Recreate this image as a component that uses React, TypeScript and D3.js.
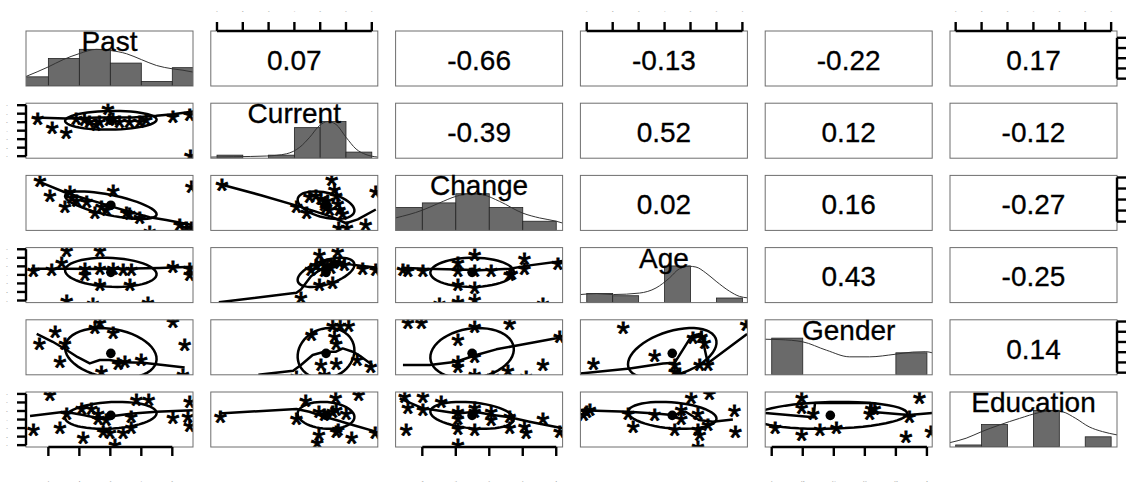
import React from "react";
import * as d3 from "d3";

const W = 1143;
const H = 482;
const PANEL_W = 167;
const PANEL_H = 55;
const COL0 = 26;
const COL_STEP = 184.8;
const ROW0 = 31;
const ROW_STEP = 72.2;
const FONT = "'Liberation Sans', Arial, Helvetica, sans-serif";

// ---- variables ----
const varNames = ["Past", "Current", "Change", "Age", "Gender", "Education"];
// axis range of each variable (value at left/bottom edge, value at right/top edge)
const domPast = [0.278, 5.668];
const domCurrent = [0.76, 7.233];
const domChange = [-2.798, 2.19];
const domAge = [0.755, 7.193];
const domGender = [0.958, 2.034];
const domEducation = [0.781, 7.226];
const varDomains = [domPast, domCurrent, domChange, domAge, domGender, domEducation];

// tick values and (illegibly small) tick labels
const ticksPast = [1, 2, 3, 4, 5];
const ticksCurrent = [1, 2, 3, 4, 5, 6, 7];
const ticksChange = [-2, -1, 0, 1, 2];
const ticksAge = [1, 2, 3, 4, 5, 6, 7];
const ticksGender = [1, 1.2, 1.4, 1.6, 1.8, 2];
const ticksEducation = [1, 2, 3, 4, 5, 6, 7];
const varTicks = [ticksPast, ticksCurrent, ticksChange, ticksAge, ticksGender, ticksEducation];

// histograms (bin edges in data units, counts)
const edgesPast = [0, 1, 2, 3, 4, 5, 6];
const countsPast = [2, 6, 8, 5, 1, 4];
const edgesCurrent = [1, 2, 3, 4, 5, 6, 7];
const countsCurrent = [1, 0, 1, 10, 12, 2];
const edgesChange = [-3, -2, -1, 0, 1, 2];
const countsChange = [5, 6, 8, 5, 2];
const edgesAge = [1, 2, 3, 4, 5, 6, 7];
const countsAge = [4, 3, 0, 16, 0, 2];
const edgesGender = [1, 1.2, 1.4, 1.6, 1.8, 2];
const countsGender = [15, 0, 0, 0, 9];
const edgesEducation = [1, 2, 3, 4, 5, 6, 7];
const countsEducation = [1, 11, 0, 18, 0, 5];
const histEdges = [edgesPast, edgesCurrent, edgesChange, edgesAge, edgesGender, edgesEducation];
const histCounts = [countsPast, countsCurrent, countsChange, countsAge, countsGender, countsEducation];

// density curves: [position in axis range (%), density relative to max]
const densPast = [[0, 0.26], [13.3, 0.52], [22.3, 0.72], [31.7, 0.88], [42.2, 1], [50.2, 0.97], [60.2, 0.88], [69.1, 0.72], [78.1, 0.56], [87.5, 0.47], [94, 0.43], [100, 0.38]];
const densCurrent = [[0, 0.03], [13.7, 0.04], [33.5, 0.06], [45.3, 0.12], [53.3, 0.3], [59.2, 0.57], [65.1, 0.89], [70.1, 1], [75, 0.92], [81, 0.57], [87, 0.25], [92.9, 0.1], [100, 0.03]];
const densChange = [[0, 0.34], [16, 0.55], [26.3, 0.75], [36.3, 0.93], [44.3, 1], [52.3, 0.97], [62.3, 0.79], [76.2, 0.47], [86.2, 0.34], [96.2, 0.25], [100, 0.2]];
const densAge = [[0, 0.22], [9.7, 0.245], [19.7, 0.22], [35.4, 0.26], [45.3, 0.4], [53.3, 0.67], [59.2, 0.92], [65.2, 0.99], [69.2, 0.97], [75.1, 0.81], [81.3, 0.58], [89.3, 0.31], [95.2, 0.17], [100, 0.13]];
const densGender = [[0, 0.97], [8.9, 0.96], [22.4, 0.9], [36.7, 0.67], [50.6, 0.49], [62.5, 0.49], [77.8, 0.56], [88.3, 0.62], [96.2, 0.63], [100, 0.6]];
const densEducation = [[0, 0.12], [9.7, 0.24], [19, 0.42], [29.6, 0.6], [41.6, 0.78], [53.5, 0.94], [61.4, 0.99], [67.4, 0.96], [75.3, 0.78], [83.3, 0.55], [91.3, 0.42], [100, 0.33]];
const densities = [densPast, densCurrent, densChange, densAge, densGender, densEducation];

// means and standard deviations (position in axis range, %)
const varMeans = [50.8, 69, 45.8, 55, 39, 57.5];
const varSds = [27.4, 17, 25, 26.5, 46, 24.5];

// correlations (upper triangle, by row)
const corPast = [0.07, -0.66, -0.13, -0.22, 0.17];
const corCurrent = [-0.39, 0.52, 0.12, -0.12];
const corChange = [0.02, 0.16, -0.27];
const corAge = [0.43, -0.25];
const corGender = [0.14];
const corRows = [corPast, corCurrent, corChange, corAge, corGender];

// scatter points [x %, y %] and loess smooth for each lower panel (x var, y var)
const starsPastCurrent = [[7, 75], [15.7, 58], [24, 49], [30, 74], [35, 72], [38, 69], [42, 64], [44, 70], [49, 93], [50, 72], [52, 74], [56, 70], [62, 69], [68, 70], [72, 72], [88, 78], [98, 82], [98.4, 7]];
const loessPastCurrent = [[4.4, 74], [24, 72], [44, 74], [64, 74], [78, 77], [88, 80], [100, 85]];

const starsPastChange = [[8.4, 94], [14.3, 65], [26.3, 74], [52.2, 75], [23.3, 45], [27.3, 62], [30.3, 56], [36.3, 55], [41.2, 34.5], [45.2, 46.7], [48.2, 40.6], [60.2, 34.5], [62, 33], [68, 25.5], [74, 1.2], [92, 13.3], [96, 7.3], [99, 7.3], [99, 83]];
const loessPastChange = [[7.4, 89], [24.3, 68], [35, 58], [44.2, 50], [54, 41], [64, 32], [74, 24], [84, 19], [99.6, 10]];

const starsCurrentChange = [[6.7, 85], [51.3, 45], [57.4, 35], [59, 64], [63, 66], [66, 60], [68, 50], [69, 44], [70, 56], [71, 40], [72.4, 95], [74, 77], [75, 66], [76, 52], [77, 40], [79, 33], [76.5, 7], [81.5, 7], [92.8, 13.3], [98.8, 74]];
const loessCurrentChange = [[6.7, 83], [30, 64], [51.3, 45], [62, 35], [72, 25], [81, 13], [88, 20], [98.8, 38]];

const starsPastAge = [[4.4, 60], [15.3, 63], [21.3, 75.6], [24.3, 97], [44.2, 97], [35.3, 65], [35.3, 54], [44.2, 65], [52.2, 65], [58.2, 63], [63.2, 63], [44.2, 35], [62.2, 35], [88, 67.7], [98, 65], [98, 54], [24.3, 5.5], [40, 0], [73, 2.4]];
const loessPastAge = [[3, 61.6], [24, 61.6], [44, 61], [64, 62], [80, 63], [100, 65]];

const starsCurrentAge = [[65, 90], [76, 95.7], [60, 62], [63, 70], [66, 75], [70, 72], [72, 66], [74, 78], [77, 75], [80, 72], [68, 60], [65, 36], [73, 39], [54, 11.6], [91, 65], [98.8, 63]];
const loessCurrentAge = [[4.8, 0.6], [51.3, 17.7], [54, 24], [60, 48], [68, 65], [76, 70], [83, 69.5], [91, 66.5], [99.8, 63.4]];

const starsChangeAge = [[4.4, 63.4], [7.4, 61.6], [16.4, 60.4], [37.3, 75.6], [37.3, 60.4], [47.3, 89.6], [47.3, 60.4], [57.3, 60.4], [77.2, 81.7], [77.2, 65], [97.2, 72.6], [37.3, 36], [47.3, 30], [47.3, 8.5], [37.3, 4.3], [26.3, 0], [88.2, 0.6], [68.3, 53], [69.5, 55]];
const loessChangeAge = [[3.4, 63.4], [17.4, 61.6], [37.3, 60.4], [50.3, 59], [68.3, 61.6], [80.2, 67.7], [100, 75.6]];

const starsPastGender = [[8, 60], [17.4, 81.7], [23.3, 59], [20.3, 26.8], [41.2, 87.8], [44.2, 97], [52.2, 78.7], [55.2, 23.8], [59.2, 26.8], [69, 31], [45.2, 8.5], [88, 100], [95, 57], [94, 2.4]];
const loessPastGender = [[6.4, 74.4], [16, 60], [24.3, 45], [31, 32], [38.2, 20.7], [44.2, 26.8], [50, 27], [58, 23], [70, 22], [82, 18], [95, 13.4]];

const starsCurrentGender = [[60.2, 75.6], [73, 92.7], [77.4, 92.7], [82.6, 92.7], [74, 72.6], [75, 58.5], [66, 20.7], [75, 23.8], [68, 2.4], [51.3, 0], [87.7, 30], [95.8, 17.7]];
const loessCurrentGender = [[28.5, 0], [49.3, 7.3], [54, 17.7], [61, 36], [68, 42], [75, 42], [79, 48], [85, 42], [90, 33], [96.8, 17.7]];

const starsChangeGender = [[7.4, 97], [15.4, 97], [47.3, 90.9], [68.3, 95], [37.3, 66.5], [37.3, 26.8], [37.3, 17.7], [47.3, 36], [47.3, 2.4], [58.3, 0], [67.3, 9.8], [78.2, 0], [88.2, 22], [98.2, 72.6]];
const loessChangeGender = [[4.4, 17.7], [20.4, 17.7], [36.3, 23.8], [48.3, 36], [60.3, 46.3], [74.3, 54.3], [96.2, 66.5], [99.2, 72.6]];

const starsAgeGender = [[25.6, 87.8], [7.8, 23.8], [44.5, 37.8], [67.4, 69.5], [72.4, 72.6], [74.4, 60.4], [56.5, 20.7], [56.5, 8.5], [59.4, 5.5], [71.4, 20.7], [76.3, 22], [99.2, 94]];
const loessAgeGender = [[0, 2.4], [29.6, 11.6], [49.5, 20.7], [56.5, 22], [66.4, 70], [72.4, 75], [76.3, 21], [99.8, 74]];

const starsPastEducation = [[4.4, 35], [14.3, 97.6], [24.3, 64], [20.3, 37], [33.3, 73], [39.2, 73], [43.2, 62.4], [43.2, 54], [46.2, 31], [50.2, 29], [58.2, 29], [53.2, 6.7], [34.3, 20], [63, 58], [63, 37], [66.1, 88.5], [73.5, 88.5], [88, 56.4], [97, 58], [98, 85.5], [98, 41.8], [48, 52]];
const loessPastEducation = [[2.4, 56.4], [23.3, 64], [34.3, 58], [44.2, 52], [52.2, 56.4], [64, 61], [78, 64], [100, 67]];

const starsCurrentEducation = [[5.7, 58], [51.3, 54], [56.8, 87.3], [74.7, 91.5], [88.5, 97.6], [64.8, 67], [68, 61], [73, 67], [75, 70], [81, 64], [76.2, 34], [75, 31], [64.8, 24.8], [63.7, 9.7], [84.4, 20], [98.4, 27.9]];
const loessCurrentEducation = [[4.8, 61], [51.3, 69], [59, 64], [68, 55], [75, 49], [85, 40], [98.8, 28]];

const starsChangeEducation = [[5.4, 93.3], [16.4, 93.3], [27.3, 85.5], [7.4, 74.5], [16.4, 70.3], [37.3, 67.3], [37.3, 55], [47.3, 74.5], [47.3, 67.3], [57.3, 67.3], [57.3, 52], [68.3, 58], [68.3, 37], [37.3, 35.8], [47.3, 34], [37.3, 6.7], [6.4, 34], [77.2, 40], [78.2, 28], [88.2, 55], [98.2, 31]];
const loessChangeEducation = [[2.4, 88.5], [16.4, 70.3], [37.3, 61], [47.3, 64], [58.3, 58], [68.3, 54], [80.2, 46], [100, 34]];

const starsAgeEducation = [[1.8, 61], [3.8, 67.3], [5.7, 70.3], [28.6, 64], [31.6, 40], [44.5, 61], [56.5, 34], [60.4, 70.3], [66.4, 91.5], [77.3, 100], [70.4, 64], [60.4, 55], [70.4, 34], [71.4, 24.8], [76.3, 43], [70.4, 3.6], [92.2, 68.5], [92.8, 31]];
const loessAgeEducation = [[0, 67], [28.6, 64], [45, 61], [55, 58], [63, 64], [71, 49], [79.3, 46], [91.3, 50]];

const starsGenderEducation = [[21.8, 91.5], [21.8, 74.5], [28.8, 64], [63.5, 72], [65.5, 72], [62.5, 64], [92.3, 91.5], [86.3, 58], [6, 37], [21.8, 24.8], [32.7, 34], [42.7, 38], [84.3, 21.8], [99.2, 31]];
const loessGenderEducation = [[0, 62], [29, 54], [29.8, 80], [63, 80], [63, 64], [86, 58], [100, 62]];

const lowerPanels = [
  { row: 1, col: 0, stars: starsPastCurrent, loess: loessPastCurrent },
  { row: 2, col: 0, stars: starsPastChange, loess: loessPastChange },
  { row: 2, col: 1, stars: starsCurrentChange, loess: loessCurrentChange },
  { row: 3, col: 0, stars: starsPastAge, loess: loessPastAge },
  { row: 3, col: 1, stars: starsCurrentAge, loess: loessCurrentAge },
  { row: 3, col: 2, stars: starsChangeAge, loess: loessChangeAge },
  { row: 4, col: 0, stars: starsPastGender, loess: loessPastGender },
  { row: 4, col: 1, stars: starsCurrentGender, loess: loessCurrentGender },
  { row: 4, col: 2, stars: starsChangeGender, loess: loessChangeGender },
  { row: 4, col: 3, stars: starsAgeGender, loess: loessAgeGender },
  { row: 5, col: 0, stars: starsPastEducation, loess: loessPastEducation },
  { row: 5, col: 1, stars: starsCurrentEducation, loess: loessCurrentEducation },
  { row: 5, col: 2, stars: starsChangeEducation, loess: loessChangeEducation },
  { row: 5, col: 3, stars: starsAgeEducation, loess: loessAgeEducation },
  { row: 5, col: 4, stars: starsGenderEducation, loess: loessGenderEducation },
];

const colLeft = (c: number) => COL0 + COL_STEP * c;
const rowTop = (r: number) => ROW0 + ROW_STEP * r;
const xPct = (c: number) => d3.scaleLinear().domain([0, 100]).range([colLeft(c), colLeft(c) + PANEL_W]);
const yPct = (r: number) => d3.scaleLinear().domain([0, 100]).range([rowTop(r) + PANEL_H, rowTop(r)]);
const xVal = (c: number) => d3.scaleLinear().domain(varDomains[c]).range([colLeft(c), colLeft(c) + PANEL_W]);
const yVal = (r: number) => d3.scaleLinear().domain(varDomains[r]).range([rowTop(r) + PANEL_H, rowTop(r)]);
const yHist = (r: number) => d3.scaleLinear().domain([0, 1.5]).range([rowTop(r) + PANEL_H, rowTop(r)]);

const fmtTick = (v: number) => (Number.isInteger(v) ? String(v) : v.toFixed(1));

function ellipsePoints(xm: number, ym: number, xs: number, ys: number, r: number) {
  const theta = r !== 0 ? Math.sign(r) / Math.SQRT2 : 1 / Math.SQRT2;
  const a = Math.sqrt(1 + r) * theta;
  const b = Math.sqrt(1 - r) * theta;
  return d3.range(52).map((i) => {
    const t = (i * 2 * Math.PI) / 51;
    const u = Math.cos(t);
    const v = Math.sin(t);
    return [xm + xs * (u * a - v * b), ym + ys * (u * a + v * b)];
  });
}

function corr(i: number, j: number) {
  const a = Math.min(i, j);
  const b = Math.max(i, j);
  return corRows[a][b - a - 1];
}

const STAR_FS = 33;
function Star({ x, y }: { x: number; y: number }) {
  return (
    <text x={x} y={y + 0.57 * STAR_FS} fontSize={STAR_FS} fontFamily={FONT} textAnchor="middle" fill="#000" stroke="#000" strokeWidth={0.9}>
      *
    </text>
  );
}

export default function App() {
  const panels: React.ReactNode[] = [];
  const n = varNames.length;

  for (let r = 0; r < n; r++) {
    for (let c = 0; c < n; c++) {
      const x0 = colLeft(c);
      const y0 = rowTop(r);
      const clipId = `clip-${r}-${c}`;
      const content: React.ReactNode[] = [];
      if (r === c) {
        const xs = xVal(c);
        const yh = yHist(r);
        const counts = histCounts[c];
        const edges = histEdges[c];
        const maxC = d3.max(counts) as number;
        counts.forEach((cnt, k) => {
          if (cnt <= 0) return;
          content.push(
            <rect key={`b${k}`} x={xs(edges[k])} y={yh(cnt / maxC)} width={xs(edges[k + 1]) - xs(edges[k])} height={yh(0) - yh(cnt / maxC)} fill="#6a6a6a" stroke="#222" strokeWidth={0.8} />
          );
        });
        const xp = xPct(c);
        const dl = d3.line<number[]>().x((d) => xp(d[0])).y((d) => yh(d[1])).curve(d3.curveMonotoneX);
        content.push(<path key="dens" d={dl(densities[c]) || ""} fill="none" stroke="#333" strokeWidth={1} />);
      } else if (r > c) {
        const p = lowerPanels.find((q) => q.row === r && q.col === c)!;
        const xp = xPct(c);
        const yp = yPct(r);
        const line = d3.line<number[]>().x((d) => xp(d[0])).y((d) => yp(d[1]));
        p.stars.forEach((s, k) => content.push(<Star key={`s${k}`} x={xp(s[0])} y={yp(s[1])} />));
        content.push(<path key="loess" d={line(p.loess) || ""} fill="none" stroke="#000" strokeWidth={2.5} strokeLinejoin="round" />);
        const el = ellipsePoints(varMeans[c], varMeans[r], varSds[c], varSds[r], corr(r, c));
        content.push(<path key="ell" d={line(el) || ""} fill="none" stroke="#000" strokeWidth={2.5} />);
        content.push(<circle key="mean" cx={xp(varMeans[c])} cy={yp(varMeans[r])} r={4.8} fill="#000" />);
      }
      panels.push(
        <g key={`p${r}-${c}`}>
          <clipPath id={clipId}>
            <rect x={x0} y={y0} width={PANEL_W} height={PANEL_H} />
          </clipPath>
          <rect x={x0} y={y0} width={PANEL_W} height={PANEL_H} fill="#fff" />
          <g clipPath={`url(#${clipId})`}>{content}</g>
          <rect x={x0} y={y0} width={PANEL_W} height={PANEL_H} fill="none" stroke="#6e6e6e" strokeWidth={1} />
          {r === c && (
            <text x={x0 + PANEL_W / 2} y={y0 + 20} fontSize={28} fontFamily={FONT} textAnchor="middle" fill="#000" stroke="#000" strokeWidth={0.3}>
              {varNames[c]}
            </text>
          )}
          {r < c && (
            <text x={x0 + PANEL_W / 2} y={y0 + 38.8} fontSize={28} fontFamily={FONT} textAnchor="middle" fill="#000" stroke="#000" strokeWidth={0.3}>
              {corr(r, c).toFixed(2)}
            </text>
          )}
        </g>
      );
    }
  }

  // axes
  const axes: React.ReactNode[] = [];
  const TL = 9;
  const topY = rowTop(0);
  const bottomY = rowTop(5) + PANEL_H;
  const leftX = colLeft(0);
  const rightX = colLeft(5) + PANEL_W;
  [1, 3, 5].forEach((c) => {
    const s = xVal(c);
    const t = varTicks[c];
    axes.push(<line key={`ta${c}`} x1={s(t[0])} x2={s(t[t.length - 1])} y1={topY} y2={topY} stroke="#000" strokeWidth={2.4} />);
    t.forEach((v, k) => {
      axes.push(<line key={`tt${c}-${k}`} x1={s(v)} x2={s(v)} y1={topY} y2={topY - TL} stroke="#000" strokeWidth={2.4} />);
      axes.push(<text key={`tl${c}-${k}`} x={s(v)} y={topY - 19.5} fontSize={2.5} fontFamily={FONT} textAnchor="middle" fill="#888">{fmtTick(v)}</text>);
    });
  });
  [0, 2, 4].forEach((c) => {
    const s = xVal(c);
    const t = varTicks[c];
    axes.push(<line key={`ba${c}`} x1={s(t[0])} x2={s(t[t.length - 1])} y1={bottomY} y2={bottomY} stroke="#000" strokeWidth={2.4} />);
    t.forEach((v, k) => {
      axes.push(<line key={`bt${c}-${k}`} x1={s(v)} x2={s(v)} y1={bottomY} y2={bottomY + TL} stroke="#000" strokeWidth={2.4} />);
      axes.push(<text key={`bl${c}-${k}`} x={s(v)} y={bottomY + 34.5} fontSize={2.5} fontFamily={FONT} textAnchor="middle" fill="#888">{fmtTick(v)}</text>);
    });
  });
  [1, 3, 5].forEach((r) => {
    const s = yVal(r);
    const t = varTicks[r];
    axes.push(<line key={`la${r}`} x1={leftX} x2={leftX} y1={s(t[0])} y2={s(t[t.length - 1])} stroke="#000" strokeWidth={2.4} />);
    t.forEach((v, k) => {
      axes.push(<line key={`lt${r}-${k}`} x1={leftX} x2={leftX - TL} y1={s(v)} y2={s(v)} stroke="#000" strokeWidth={2.4} />);
      axes.push(<text key={`ll${r}-${k}`} x={leftX - 19} y={s(v) + 1} fontSize={2.5} fontFamily={FONT} textAnchor="middle" fill="#888">{fmtTick(v)}</text>);
    });
  });
  [0, 2, 4].forEach((r) => {
    const s = yVal(r);
    const t = varTicks[r];
    axes.push(<line key={`ra${r}`} x1={rightX} x2={rightX} y1={s(t[0])} y2={s(t[t.length - 1])} stroke="#000" strokeWidth={2.4} />);
    t.forEach((v, k) => {
      axes.push(<line key={`rt${r}-${k}`} x1={rightX} x2={rightX + TL} y1={s(v)} y2={s(v)} stroke="#000" strokeWidth={2.4} />);
    });
  });

  return (
    <svg width={W} height={H} viewBox={`0 0 ${W} ${H}`} style={{ position: "absolute", left: 0, top: 0, background: "#fff" }}>
      <rect x={0} y={0} width={W} height={H} fill="#fff" />
      {panels}
      {axes}
    </svg>
  );
}
